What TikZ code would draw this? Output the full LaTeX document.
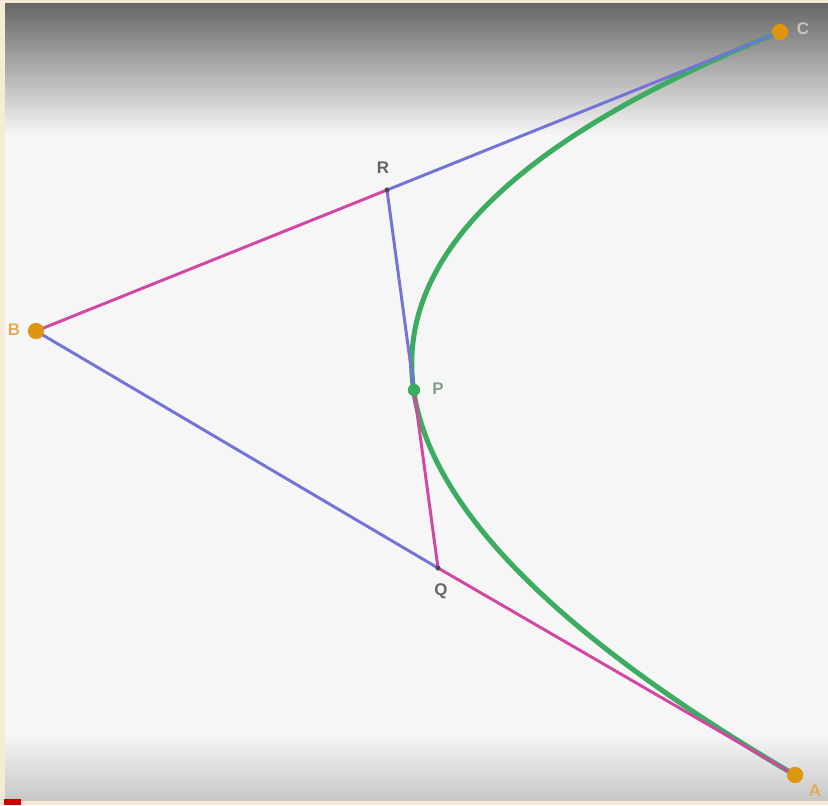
\documentclass[tikz,border=0pt]{standalone}
\usepackage{fontspec}
\setsansfont{Liberation Sans}
\usetikzlibrary{calc}

\definecolor{fondclair}{RGB}{246,246,246}
\definecolor{fondsombre}{RGB}{102,102,102}
\definecolor{fondmilieu}{RGB}{200,200,200}
\definecolor{cadre}{RGB}{247,235,215}
\definecolor{bleu}{RGB}{116,116,216}
\definecolor{magenta}{RGB}{210,70,164}
\definecolor{vert}{RGB}{60,172,96}
\definecolor{orange}{RGB}{222,150,16}
\definecolor{lettre}{RGB}{226,170,90}
\definecolor{lettreC}{RGB}{205,195,185}

\tikzset{
  trait/.style={line width=2.1pt,line cap=round},
  point/.style={circle,fill=orange,inner sep=0pt,minimum size=0.4cm},
  petit/.style={circle,fill=black!70,inner sep=0pt,minimum size=0.12cm},
  lab/.style={font=\sffamily\bfseries\fontsize{12}{14}\selectfont}
}

\begin{document}
\begin{tikzpicture}[x=0.025cm,y=-0.025cm]

% Fond
\useasboundingbox (0,0) rectangle (828,805);
\fill[cadre] (0,0) rectangle (828,805);
\fill[fondclair] (5,3) rectangle (828,800);
\shade[top color=fondsombre,middle color=fondmilieu,bottom color=fondclair] (5,3) rectangle (828,135);
\shade[top color=fondclair,bottom color=black!22] (5,735) rectangle (828,800);
\fill[red!80!black] (4,799) rectangle (21,805);

% Points de controle
\node[point] (A) at (795,775) {};
\node[point] (B) at (36,331) {};
\node[point] (C) at (780,32) {};

% Points intermediaires
\node[petit] (Q) at (438,568) {};
\node[petit] (R) at (387,190) {};
\node[circle,fill=vert,inner sep=0pt,minimum size=0.3cm] (P) at (414,390) {};

% Courbe
\draw[vert,line width=3.6pt]
(A.center)
.. controls ($(A)!2/3!(B)$) and ($(C)!2/3!(B)$) ..
(C.center);

% Segments
\draw[trait,magenta] (B.center) -- (R.center);
\draw[trait,bleu] (R.center) -- (C.center);
\draw[trait,bleu] (B.center) -- (Q.center);
\draw[trait,magenta] (Q.center) -- (A.center);
\draw[trait,bleu] (R.center) -- (P.center);
\draw[trait,magenta] (P.center) -- (Q.center);

% Points par-dessus
\node[point] at (A) {};
\node[point] at (B) {};
\node[point] at (C) {};
\node[petit] at (Q) {};
\node[petit] at (R) {};
\node[circle,fill=vert,inner sep=0pt,minimum size=0.3cm] at (P) {};

% Lettres
\node[lab,text=lettre] (labA) at (815,791) {A};
\node[lab,text=lettre] (labB) at (14,330) {B};
\node[lab,text=lettreC] (labC) at (803,29) {C};
\node[lab,text=black!60] (labR) at (383,168) {R};
\node[lab,text=vert!60!black!60] (labP) at (438,389) {P};
\node[lab,text=black!60] (labQ) at (441,591) {Q};

\end{tikzpicture}
\end{document}
